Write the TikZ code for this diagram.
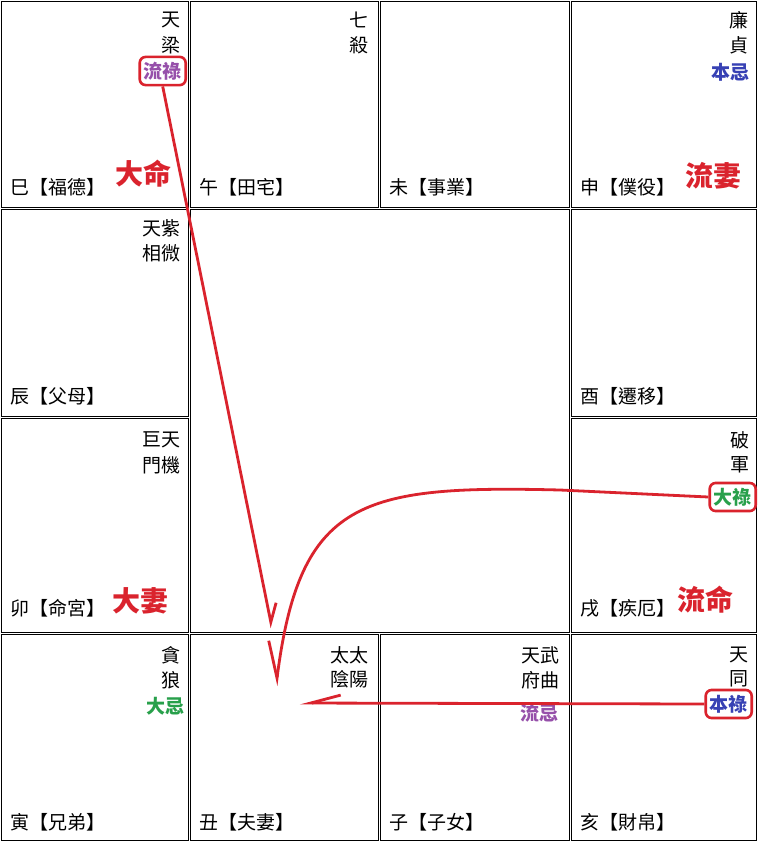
\documentclass[tikz,border=0pt]{standalone}
\usepackage{fontspec}
\newfontfamily\tcfont{Noto Sans CJK TC}
\usetikzlibrary{arrows.meta}
\definecolor{markred}{RGB}{218,35,45}
\definecolor{liupurple}{RGB}{150,80,170}
\definecolor{benblue}{RGB}{55,65,180}
\definecolor{dagreen}{RGB}{40,160,75}

\begin{document}
\begin{tikzpicture}[x=1pt, y=-1pt,
	cell/.style={draw, line width=1pt},
	star/.style={anchor=east, inner sep=0pt, font=\tcfont\fontsize{19}{19}\selectfont},
	hua/.style={star, text=#1, font=\tcfont\bfseries\fontsize{19}{19}\selectfont},
	palace/.style={anchor=west, inner sep=0pt, font=\tcfont\fontsize{19}{19}\selectfont},
	big/.style={inner sep=0pt, text=markred, font=\tcfont\bfseries\fontsize{28}{28}\selectfont},
	ring/.style={draw=markred, line width=2.6pt, rounded corners=6pt, inner xsep=4pt, inner ysep=5pt, anchor=east, font=\tcfont\bfseries\fontsize{19}{19}\selectfont},
	stroke/.style={draw=markred, line width=2.8pt}]
	\useasboundingbox (0,0) rectangle (758,844);
	\fill[white] (0,0) rectangle (758,844);
	\foreach \l/\r in {1.5/188.5, 190.5/378.5, 380.5/569.5, 571.5/756.5} {
		\draw[cell] (\l,1.5) rectangle (\r,207.5);
		\draw[cell] (\l,634.5) rectangle (\r,840.5);
	}
	\foreach \t/\b in {209.5/416.5, 418.5/632.5} {
		\draw[cell] (1.5,\t) rectangle (188.5,\b);
		\draw[cell] (571.5,\t) rectangle (756.5,\b);
	}
	\draw[cell] (190.5,209.5) rectangle (569.5,632.5);

	\node[star] (si1) at (181,20) {天};
	\node[star] (si2) at (181,45) {梁};
	\node[ring, text=liupurple] (liulu) at (187,71) {流祿};
	\node[palace] (si) at (10,187) {巳【福德】};
	\node[big] (daming) at (143,174) {大命};

	\node[star] (wu1) at (369,20) {七};
	\node[star] (wu2) at (369,45) {殺};
	\node[palace] (wu) at (199,187) {午【田宅】};

	\node[palace] (wei) at (389,187) {未【事業】};

	\node[star] (shen1) at (749,20) {廉};
	\node[star] (shen2) at (749,45) {貞};
	\node[hua=benblue] (benji) at (750,72) {本忌};
	\node[palace] (shen) at (580,187) {申【僕役】};
	\node[big] (liuqi) at (713,176) {流妻};

	\node[star] (chen1) at (181,228) {天紫};
	\node[star] (chen2) at (181,253) {相微};
	\node[palace] (chen) at (10,396) {辰【父母】};

	\node[palace] (you) at (580,396) {酉【遷移】};

	\node[star] (mao1) at (181,440) {巨天};
	\node[star] (mao2) at (181,465) {門機};
	\node[palace] (mao) at (10,608) {卯【命宮】};
	\node[big] (daqi) at (140,601) {大妻};

	\node[star] (xu1) at (750,440) {破};
	\node[star] (xu2) at (750,465) {軍};
	\node[ring, text=dagreen] (dalu) at (757,497) {大祿};
	\node[palace] (xu) at (580,608) {戌【疾厄】};
	\node[big] (liuming) at (705,600) {流命};

	\node[star] (yin1) at (181,655) {貪};
	\node[star] (yin2) at (181,680) {狼};
	\node[hua=dagreen] (daji) at (185,706) {大忌};
	\node[palace] (yin) at (10,822) {寅【兄弟】};

	\node[star] (chou1) at (369,655) {太太};
	\node[star] (chou2) at (369,679) {陰陽};
	\node[palace] (chou) at (199,822) {丑【夫妻】};

	\node[star] (zi1) at (560,655) {天武};
	\node[star] (zi2) at (560,680) {府曲};
	\node[hua=liupurple] (liuji) at (559,713) {流忌};
	\node[palace] (zi) at (389,822) {子【子女】};

	\node[star] (hai1) at (749,655) {天};
	\node[star] (hai2) at (749,679) {同};
	\node[ring, text=benblue] (benlu) at (753,704) {本祿};
	\node[palace] (hai) at (580,822) {亥【財帛】};

	\coordinate (tipA) at (272,628);
	\coordinate (tipB) at (276,686);
	\coordinate (tipC) at (300,703);
	\draw[stroke, -{Straight Barb[left, length=18pt, width=18pt]}] (liulu.south) -- (tipA);
	\draw[stroke, -{Straight Barb[right, length=36pt, width=26pt]}] (dalu.west) -- (560,490) .. controls (360,485) and (300,500) .. (tipB);
	\draw[stroke, -{Straight Barb[right, length=30pt, width=16pt]}] (benlu.west) -- (tipC);
\end{tikzpicture}
\end{document}
